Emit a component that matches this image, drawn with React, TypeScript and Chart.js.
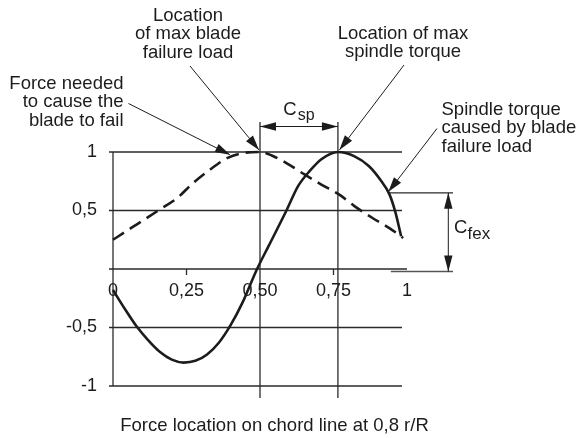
import React, { useEffect, useRef } from "react";
import { Chart, registerables } from "chart.js";

Chart.register(...registerables);

// ---- data ----
const failureX = [0, 0.08, 0.16, 0.22, 0.27, 0.33, 0.39, 0.44, 0.5, 0.54, 0.6, 0.65, 0.71, 0.77, 0.82, 0.88, 0.94, 0.987];
const failureY = [0.25, 0.38, 0.51, 0.61, 0.73, 0.85, 0.95, 0.99, 1.0, 0.97, 0.89, 0.81, 0.72, 0.635, 0.54, 0.44, 0.35, 0.265];

const torqueX = [0, 0.04, 0.08, 0.12, 0.16, 0.2, 0.24, 0.28, 0.32, 0.36, 0.4, 0.44, 0.49, 0.53, 0.59, 0.63, 0.67, 0.71, 0.765, 0.82, 0.87, 0.91, 0.94, 0.96, 0.98];
const torqueY = [-0.18, -0.34, -0.49, -0.61, -0.71, -0.775, -0.8, -0.785, -0.73, -0.63, -0.48, -0.29, 0, 0.2, 0.5, 0.71, 0.84, 0.94, 1.0, 0.965, 0.88, 0.76, 0.64, 0.49, 0.28];

const xTickValues = [0, 0.25, 0.5, 0.75, 1];
const xTickLabels = ["0", "0,25", "0,50", "0,75", "1"];
const gridYValues = [1, 0.5, 0, -0.5, -1];
const xTickMarks = [0.25, 0.75];
const maxFailureX = 0.5;
const maxTorqueX = 0.765;
const cfexTopY = 0.651;
const xTitle = "Force location on chord line at 0,8 r/R";
const labelMaxFailure = ["Location", "of max blade", "failure load"];
const labelForce = ["Force needed", "to cause the", "blade to fail"];
const labelMaxTorque = ["Location of max", "spindle torque"];
const labelTorque = ["Spindle torque", "caused by blade", "failure load"];

const INK = "#1c1c1c";
const FONT = '"Liberation Sans", Arial, Helvetica, sans-serif';

function arrowHead(ctx: CanvasRenderingContext2D, x1: number, y1: number, x2: number, y2: number, len: number, hw: number) {
  const a = Math.atan2(y2 - y1, x2 - x1);
  const bx = x2 - len * Math.cos(a);
  const by = y2 - len * Math.sin(a);
  ctx.beginPath();
  ctx.moveTo(x2, y2);
  ctx.lineTo(bx + hw * Math.sin(a), by - hw * Math.cos(a));
  ctx.lineTo(bx - hw * Math.sin(a), by + hw * Math.cos(a));
  ctx.closePath();
  ctx.fill();
}

function pointer(ctx: CanvasRenderingContext2D, x1: number, y1: number, x2: number, y2: number) {
  ctx.beginPath();
  ctx.moveTo(x1, y1);
  ctx.lineTo(x2, y2);
  ctx.stroke();
  arrowHead(ctx, x1, y1, x2, y2, 15, 4.5);
}

const annotPlugin = {
  id: "annot",
  beforeDatasetsDraw(chart: any) {
    const ctx: CanvasRenderingContext2D = chart.ctx;
    const xs = chart.scales.x;
    const ys = chart.scales.y;
    ctx.save();
    ctx.strokeStyle = "#2a2a2a";
    ctx.lineWidth = 1.3;
    // horizontal grid lines
    gridYValues.forEach((v) => {
      const y = ys.getPixelForValue(v);
      const xEnd = v === 0 ? xs.getPixelForValue(1) : xs.getPixelForValue(0.983);
      ctx.beginPath();
      ctx.moveTo(xs.getPixelForValue(0) - 4, y);
      ctx.lineTo(xEnd, y);
      ctx.stroke();
    });
    // y axis line
    ctx.beginPath();
    ctx.moveTo(xs.getPixelForValue(0), ys.getPixelForValue(1));
    ctx.lineTo(xs.getPixelForValue(0), ys.getPixelForValue(-1));
    ctx.stroke();
    // reference verticals
    [maxFailureX, maxTorqueX].forEach((v) => {
      const x = xs.getPixelForValue(v);
      ctx.beginPath();
      ctx.moveTo(x, ys.getPixelForValue(1) - 30);
      ctx.lineTo(x, ys.getPixelForValue(-1) + 12);
      ctx.stroke();
    });
    // tick marks
    xTickMarks.forEach((v) => {
      const x = xs.getPixelForValue(v);
      const y = ys.getPixelForValue(0);
      ctx.beginPath();
      ctx.moveTo(x, y);
      ctx.lineTo(x, y + 6);
      ctx.stroke();
    });
    // C_fex reference lines
    const yTop = ys.getPixelForValue(cfexTopY);
    const y0 = ys.getPixelForValue(0) + 2.5;
    ctx.beginPath();
    ctx.moveTo(xs.getPixelForValue(0.935), yTop);
    ctx.lineTo(453, yTop);
    ctx.stroke();
    ctx.strokeStyle = "#555";
    ctx.beginPath();
    ctx.moveTo(xs.getPixelForValue(0.945), y0);
    ctx.lineTo(453, y0);
    ctx.stroke();
    ctx.restore();
  },
  afterDatasetsDraw(chart: any) {
    const ctx: CanvasRenderingContext2D = chart.ctx;
    const xs = chart.scales.x;
    const ys = chart.scales.y;
    ctx.save();
    ctx.fillStyle = INK;
    ctx.strokeStyle = INK;
    ctx.font = `18.5px ${FONT}`;
    ctx.textBaseline = "alphabetic";

    // x tick labels
    ctx.textAlign = "center";
    ctx.textBaseline = "middle";
    ctx.font = `18px ${FONT}`;
    xTickValues.forEach((v, i) => {
      ctx.fillText(xTickLabels[i], xs.getPixelForValue(v), ys.getPixelForValue(0) + 22);
    });

    // axis title
    ctx.textBaseline = "alphabetic";
    ctx.font = `18.5px ${FONT}`;
    ctx.fillText(xTitle, 274.5, 431);

    // annotation labels
    ctx.textAlign = "center";
    labelMaxFailure.forEach((t, i) => ctx.fillText(t, 188, 20.7 + i * 18.5));
    labelMaxTorque.forEach((t, i) => ctx.fillText(t, 403, 38.5 + i * 18.5));
    ctx.textAlign = "right";
    labelForce.forEach((t, i) => ctx.fillText(t, 123.5, 88.5 + i * 18.6));
    ctx.textAlign = "left";
    labelTorque.forEach((t, i) => ctx.fillText(t, 441.5, 115 + i * 18.4));

    // pointers
    ctx.lineWidth = 1;
    pointer(ctx, 128.5, 103.5, xs.getPixelForValue(0.398), ys.getPixelForValue(0.985) + 1);
    pointer(ctx, 190, 66, xs.getPixelForValue(maxFailureX) - 1, ys.getPixelForValue(1) - 2);
    pointer(ctx, 404, 65, xs.getPixelForValue(maxTorqueX) + 1.5, ys.getPixelForValue(1) - 2);
    pointer(ctx, 437, 128.5, xs.getPixelForValue(0.935) + 0.5, ys.getPixelForValue(cfexTopY) - 1);

    // C_sp dimension
    const xa = xs.getPixelForValue(maxFailureX);
    const xb = xs.getPixelForValue(maxTorqueX);
    const yd = ys.getPixelForValue(1) - 25.5;
    ctx.beginPath();
    ctx.moveTo(xa, yd);
    ctx.lineTo(xb, yd);
    ctx.stroke();
    arrowHead(ctx, xa + 20, yd, xa, yd, 16, 4.2);
    arrowHead(ctx, xb - 20, yd, xb, yd, 16, 4.2);
    ctx.textAlign = "left";
    ctx.font = `18.5px ${FONT}`;
    ctx.fillText("C", 283.3, 115);
    ctx.font = `16px ${FONT}`;
    ctx.fillText("sp", 297.8, 119.5);

    // C_fex dimension
    const xd = 448.3;
    const yt = ys.getPixelForValue(cfexTopY);
    const yb = ys.getPixelForValue(0) + 2.5;
    ctx.beginPath();
    ctx.moveTo(xd, yt);
    ctx.lineTo(xd, yb);
    ctx.stroke();
    arrowHead(ctx, xd, yt + 20, xd, yt, 16, 4.2);
    arrowHead(ctx, xd, yb - 20, xd, yb, 16, 4.2);
    ctx.font = `18.5px ${FONT}`;
    ctx.fillText("C", 454, 233.3);
    ctx.font = `17px ${FONT}`;
    ctx.fillText("fex", 467.5, 239.3);

    ctx.restore();
  },
};

export default function App() {
  const ref = useRef<HTMLCanvasElement | null>(null);
  useEffect(() => {
    if (!ref.current) return;
    const chart = new Chart(ref.current, {
      type: "line",
      data: {
        datasets: [
          {
            data: failureX.map((x, i) => ({ x, y: failureY[i] })),
            borderColor: INK,
            borderWidth: 2.6,
            borderDash: [13, 7],
            pointRadius: 0,
            cubicInterpolationMode: "monotone",
            fill: false,
            clip: false,
          } as any,
          {
            data: torqueX.map((x, i) => ({ x, y: torqueY[i] })),
            borderColor: INK,
            borderWidth: 2.6,
            pointRadius: 0,
            cubicInterpolationMode: "monotone",
            fill: false,
            clip: false,
          } as any,
        ],
      },
      options: {
        animation: false,
        responsive: false,
        devicePixelRatio: 1,
        layout: { padding: { top: 152, bottom: 52, left: 0, right: 172 } },
        plugins: { legend: { display: false }, tooltip: { enabled: false }, title: { display: false } },
        scales: {
          x: { type: "linear", min: 0, max: 1, display: false },
          y: {
            type: "linear",
            min: -1,
            max: 1,
            afterFit: (s: any) => {
              s.width = 113;
            },
            grid: { display: false, drawTicks: false },
            border: { display: false },
            ticks: {
              stepSize: 0.5,
              padding: 16,
              color: INK,
              font: { size: 18, family: FONT },
              callback: (v: any) => (Number(v) === 0 ? "" : String(v).replace(".", ",")),
            },
          },
        },
      } as any,
      plugins: [annotPlugin],
    });
    return () => chart.destroy();
  }, []);
  return (
    <div style={{ position: "absolute", left: 0, top: 0, width: 579, height: 438, background: "#fff" }}>
      <canvas ref={ref} width={579} height={438} style={{ display: "block", width: 579, height: 438 }} />
    </div>
  );
}
